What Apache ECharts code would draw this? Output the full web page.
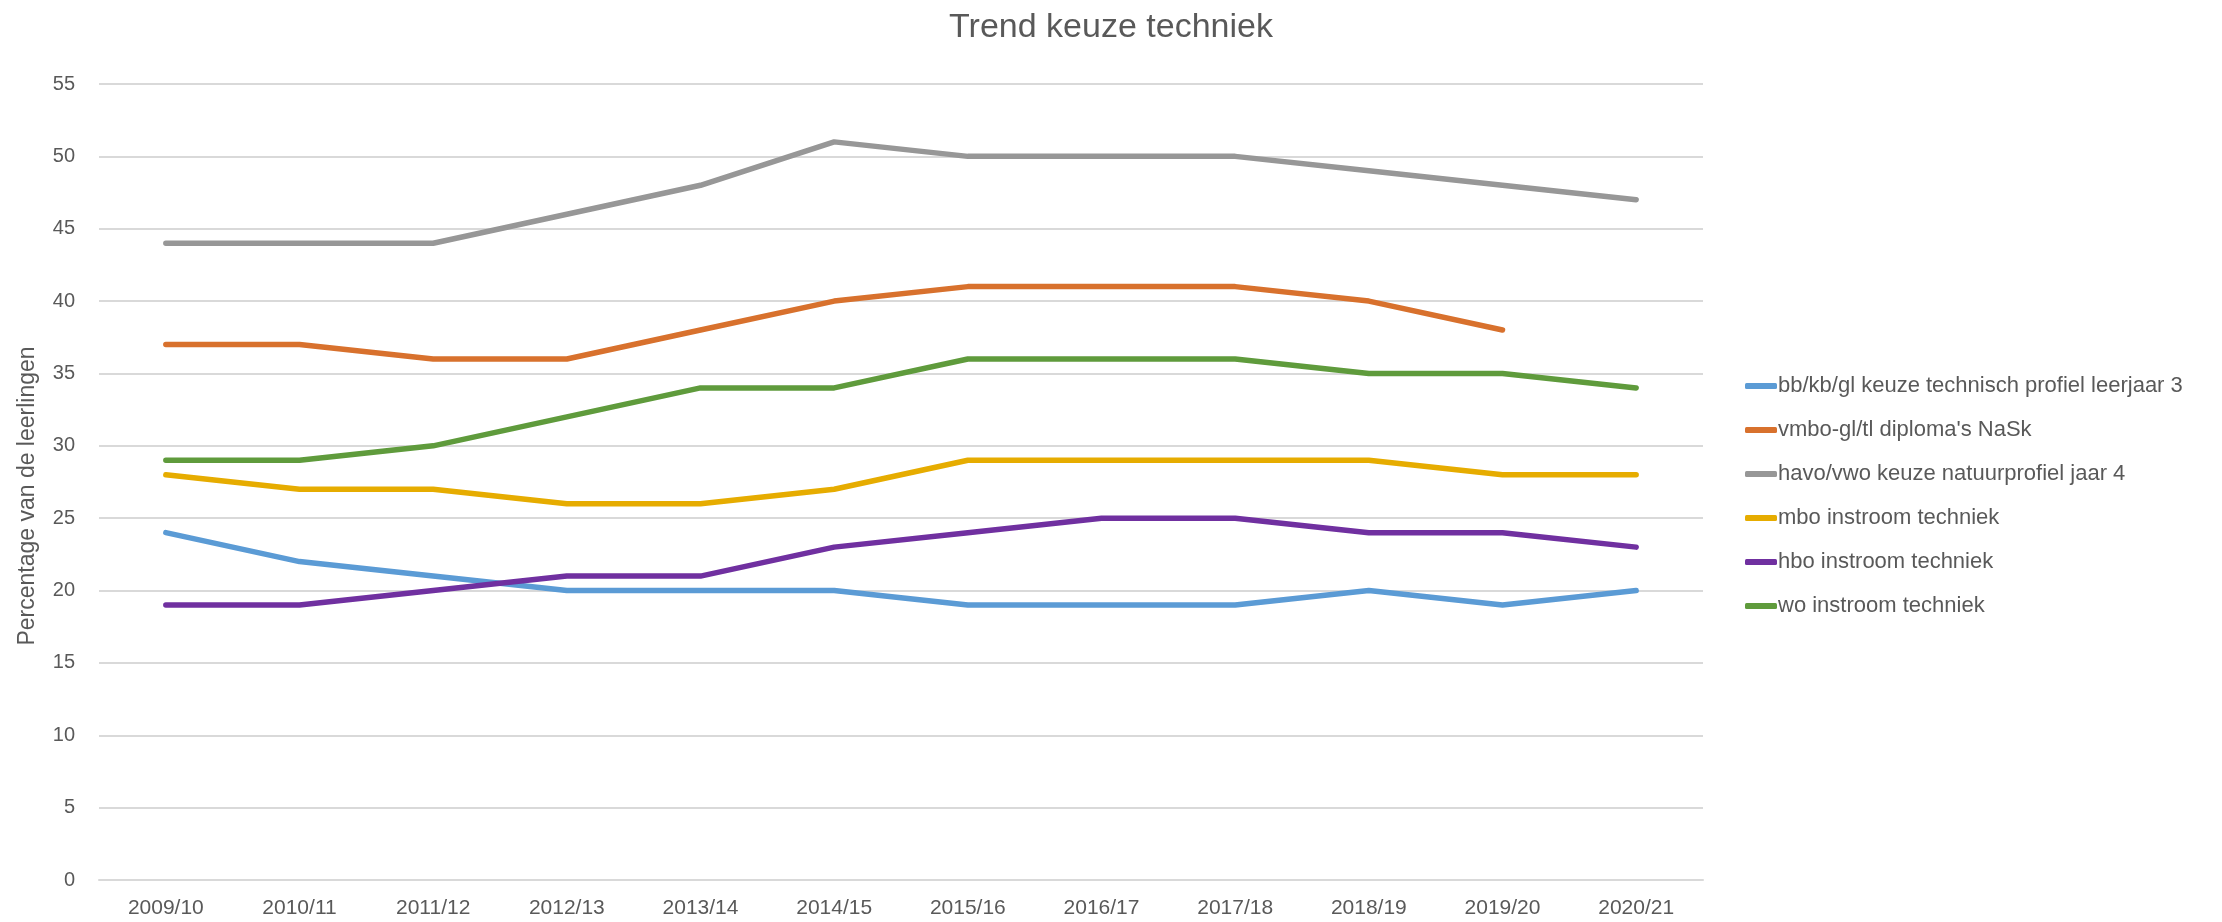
<!DOCTYPE html>
<html>
<head>
<meta charset="utf-8">
<script src="https://cdn.jsdelivr.net/npm/echarts@6/dist/echarts.min.js"></script>
<style>
  html, body { margin: 0; padding: 0; background: #fff; }
  #trend_chart { width: 2222px; height: 922px; }
</style>
</head>
<body>
<div id="trend_chart"></div>
<script>
// schooljaren en percentages
var years = ['2009/10', '2010/11', '2011/12', '2012/13', '2013/14', '2014/15',
             '2015/16', '2016/17', '2017/18', '2018/19', '2019/20', '2020/21'];

var bbkbgl = [24, 22, 21, 20, 20, 20, 19, 19, 19, 20, 19, 20];
var vmboNask = [37, 37, 36, 36, 38, 40, 41, 41, 41, 40, 38, null];
var havoVwo = [44, 44, 44, 46, 48, 51, 50, 50, 50, 49, 48, 47];
var mbo = [28, 27, 27, 26, 26, 27, 29, 29, 29, 29, 28, 28];
var hbo = [19, 19, 20, 21, 21, 23, 24, 25, 25, 24, 24, 23];
var wo = [29, 29, 30, 32, 34, 34, 36, 36, 36, 35, 35, 34];

var seriesNames = [
    'bb/kb/gl keuze technisch profiel leerjaar 3',
    "vmbo-gl/tl diploma's NaSk",
    'havo/vwo keuze natuurprofiel jaar 4',
    'mbo instroom techniek',
    'hbo instroom techniek',
    'wo instroom techniek'
];
var seriesData = [bbkbgl, vmboNask, havoVwo, mbo, hbo, wo];
var colors = ['#5B9BD5', '#D8712D', '#979797', '#E6AC00', '#7030A0', '#5F9B3C'];

var chart = echarts.init(document.getElementById('trend_chart'), null, {renderer: 'canvas'});

var font = 'Liberation Sans';

var option = {
    animation: false,
    color: colors,
    title: {
        text: 'Trend keuze techniek',
        left: 'center',
        top: 6,
        textStyle: {
            fontFamily: font,
            fontSize: 34,
            fontWeight: 'normal',
            color: '#595959'
        }
    },
    grid: {
        left: 99,
        right: 2222 - 1703,
        top: 84,
        bottom: 922 - 880
    },
    legend: {
        orient: 'vertical',
        left: 1740,
        top: 370,
        itemWidth: 32,
        itemHeight: 6,
        itemGap: 22,
        icon: 'roundRect',
        textStyle: {
            fontFamily: font,
            fontSize: 22,
            color: '#595959',
            padding: [0, 0, 0, -4]
        },
        data: seriesNames
    },
    xAxis: {
        type: 'category',
        data: years,
        boundaryGap: true,
        axisLine: { lineStyle: { color: '#D9D9D9', width: 2 } },
        axisTick: { show: false },
        axisLabel: {
            fontFamily: font,
            fontSize: 21,
            color: '#595959',
            margin: 18
        }
    },
    yAxis: {
        type: 'value',
        min: 0,
        max: 55,
        interval: 5,
        name: 'Percentage van de leerlingen',
        nameLocation: 'middle',
        nameGap: 60,
        nameTextStyle: {
            fontFamily: font,
            fontSize: 23,
            color: '#595959',
            padding: [0, 28, 0, 0]
        },
        axisLine: { show: false },
        axisTick: { show: false },
        splitLine: { lineStyle: { color: '#D9D9D9', width: 2 } },
        axisLabel: {
            fontFamily: font,
            fontSize: 20,
            color: '#595959',
            margin: 24
        }
    },
    series: seriesNames.map(function (name, i) {
        return {
            name: name,
            type: 'line',
            data: seriesData[i],
            showSymbol: false,
            symbol: 'none',
            lineStyle: { width: 5.5, cap: 'round', join: 'round' }
        };
    })
};

chart.setOption(option);
</script>
</body>
</html>
